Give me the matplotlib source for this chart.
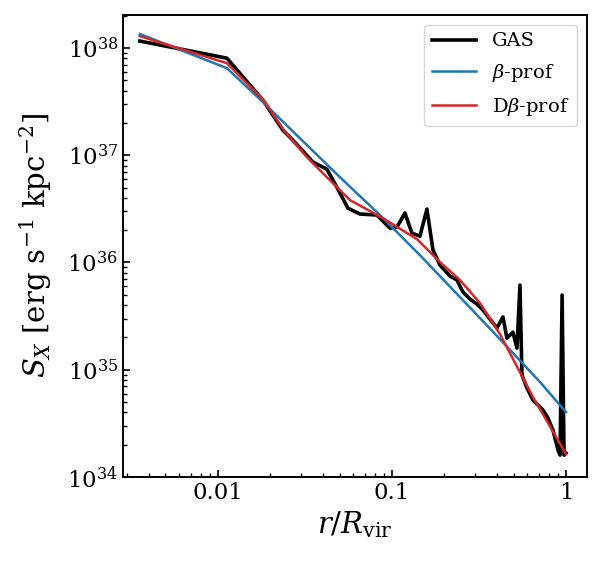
import matplotlib
matplotlib.use("Agg")
import matplotlib.pyplot as plt

plt.rcParams['font.family'] = ['DejaVu Serif']
plt.rcParams['mathtext.fontset'] = 'dejavuserif'

# GAS profile
gas_x = [0.00356, 0.01127, 0.01815, 0.02365, 0.02698, 0.03516, 0.04227, 0.04827,
         0.05585, 0.06551, 0.08199, 0.09746, 0.1069, 0.1188, 0.1303, 0.1449, 0.1589,
         0.1721, 0.1888, 0.2155, 0.2364, 0.2561, 0.2808, 0.3080, 0.3333, 0.3658,
         0.4011, 0.4345, 0.4580, 0.4956, 0.5228, 0.5441, 0.5585, 0.5970, 0.6462,
         0.7376, 0.7882, 0.8418, 0.8995, 0.925, 0.950, 0.975, 1.0]
gas_y = [1.16e38, 8.03e37, 3.26e37, 1.71e37, 1.38e37, 8.63e36, 7.42e36, 5.04e36,
         3.21e36, 2.83e36, 2.77e36, 2.09e36, 2.14e36, 2.89e36, 1.88e36, 1.76e36, 3.15e36,
         1.31e36, 9.46e35, 7.47e35, 6.86e35, 5.30e35, 4.56e35, 4.10e35, 3.60e35, 2.97e35,
         2.45e35, 3.10e35, 1.97e35, 2.24e35, 1.59e35, 6.16e35, 8.92e34, 6.75e34, 5.22e34,
         4.21e34, 3.55e34, 2.74e34, 1.79e34, 1.60e34, 4.97e35, 1.60e34, 1.67e34]

# beta profile
beta_x = [0.00356, 0.01127, 0.01815, 0.0296, 0.05023, 0.08531, 0.1449, 0.246,
          0.4175, 0.7096, 1.0]
beta_y = [1.35e38, 6.48e37, 3.13e37, 1.44e37, 6.25e36, 2.77e36, 1.17e36, 4.76e35,
          1.93e35, 7.68e34, 4.03e34]

# double beta profile
dbeta_x = [0.00356, 0.01127, 0.01815, 0.02365, 0.03247, 0.04227, 0.05738, 0.08874,
           0.1393, 0.1888, 0.2460, 0.3205, 0.4175, 0.6462, 1.0]
dbeta_y = [1.29e38, 7.21e37, 3.33e37, 1.75e37, 9.60e36, 6.25e36, 3.82e36, 2.59e36,
           1.65e36, 1.01e36, 6.86e35, 4.19e35, 2.15e35, 5.57e34, 1.64e34]

fig = plt.figure(figsize=(6.02, 5.61), dpi=100)
ax = fig.add_axes([0.2043, 0.1497, 0.7707, 0.8236])

ax.plot(gas_x, gas_y, color='black', lw=2.6, label='GAS')
ax.plot(beta_x, beta_y, color='#1f77b4', lw=1.8, label=r'$\beta$-prof')
ax.plot(dbeta_x, dbeta_y, color='#d62728', lw=1.8, label=r'D$\beta$-prof')

ax.set_xscale('log')
ax.set_yscale('log')
ax.set_xlim(0.00285, 1.32)
ax.set_ylim(1e34, 2.03e38)

ax.set_xticks([0.01, 0.1, 1])
ax.set_xticklabels(['0.01', '0.1', '1'])

ax.tick_params(which='both', direction='in', labelsize=16.5)
ax.tick_params(which='major', length=5, width=1.2)
ax.tick_params(which='minor', length=3, width=1.0)
for s in ax.spines.values():
    s.set_linewidth(1.4)

ax.set_xlabel(r'$r/R_{\rm vir}$', fontsize=21)
ax.set_ylabel(r'$S_X$ [erg s$^{-1}$ kpc$^{-2}$]', fontsize=21, labelpad=9.5)

ax.legend(loc='upper right', fontsize=14, handlelength=2.3, labelspacing=0.6)

fig.savefig('out.png', dpi=100)
